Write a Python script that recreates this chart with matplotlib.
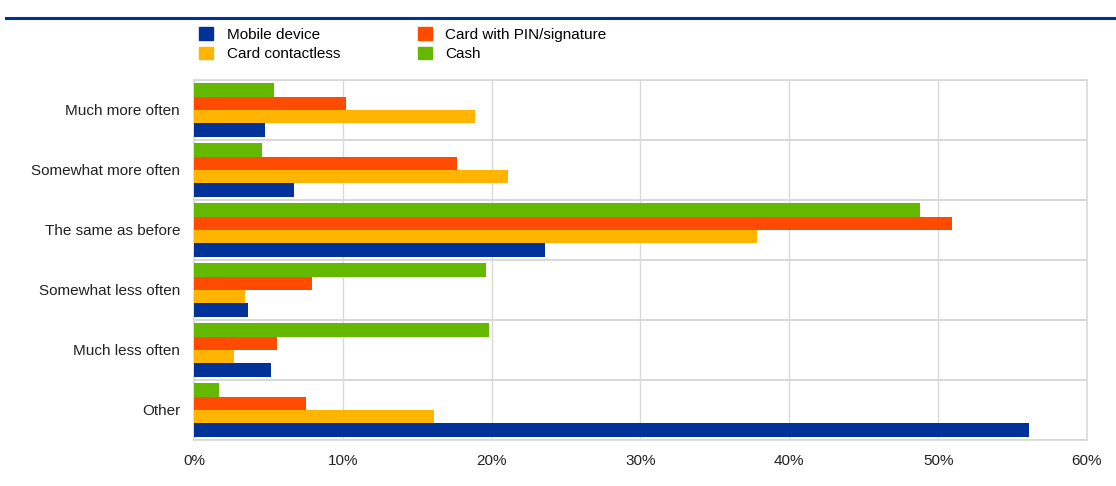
import numpy as np
import matplotlib.pyplot as plt
from matplotlib.patches import Patch

plt.rcParams['font.family'] = ['Liberation Sans', 'DejaVu Sans']

# Data (percent)
categories = ['Much more often', 'Somewhat more often', 'The same as before',
              'Somewhat less often', 'Much less often', 'Other']
mobile = [4.8, 6.7, 23.6, 3.6, 5.2, 56.1]
contactless = [18.9, 21.1, 37.8, 3.4, 2.7, 16.1]
pin_signature = [10.2, 17.7, 50.9, 7.9, 5.6, 7.5]
cash = [5.4, 4.6, 48.8, 19.6, 19.8, 1.7]

series_names = ['Mobile device', 'Card contactless', 'Card with PIN/signature', 'Cash']
colors = ['#003299', '#FFB400', '#FF4B00', '#65B800']

fig = plt.figure(figsize=(11.16, 4.86), dpi=100)
ax = fig.add_axes([0.1738, 0.0947, 0.8002, 0.7407])

y = np.arange(len(categories))
h = 0.222
# bottom-to-top inside each band: mobile, contactless, PIN, cash
offsets = [1.5 * h, 0.5 * h, -0.5 * h, -1.5 * h]
for vals, off, col in zip([mobile, contactless, pin_signature, cash], offsets, colors):
    ax.barh(y + off, vals, height=h, color=col, zorder=3)

ax.set_ylim(len(categories) - 0.5, -0.5)
ax.set_xlim(0, 60)
ax.set_xticks(np.arange(0, 61, 10))
ax.set_xticklabels([f'{v}%' for v in range(0, 61, 10)], fontsize=11, color='#222222')
ax.set_yticks(y)
ax.set_yticklabels(categories, fontsize=11, color='#222222')
ax.tick_params(axis='y', length=0, pad=10)
ax.tick_params(axis='x', length=0, pad=10)

# grid: vertical at ticks, horizontal between categories
ax.grid(axis='x', color='#d9d9d9', linewidth=1, zorder=0)
for b in np.arange(-0.5, len(categories), 1):
    ax.axhline(b, color='#d9d9d9', linewidth=1.5, zorder=1)
for s in ax.spines.values():
    s.set_color('#d9d9d9')
    s.set_linewidth(1.2)

# blue rule under the (cropped) title
fig.add_artist(plt.Line2D([0.005, 1.0], [0.963, 0.963], color='#003299', linewidth=2.2))

handles = [Patch(color=colors[0]), Patch(color=colors[1]),
           Patch(color=colors[2]), Patch(color=colors[3])]
labels = [series_names[0], series_names[1], series_names[2], series_names[3]]
fig.legend(handles, labels, ncol=2, loc='upper left', bbox_to_anchor=(0.166, 0.972),
           frameon=False, fontsize=11, handlelength=0.9, handleheight=0.9,
           handletextpad=0.9, columnspacing=5.1, labelspacing=0.3)

fig.savefig('out.png', dpi=100)
